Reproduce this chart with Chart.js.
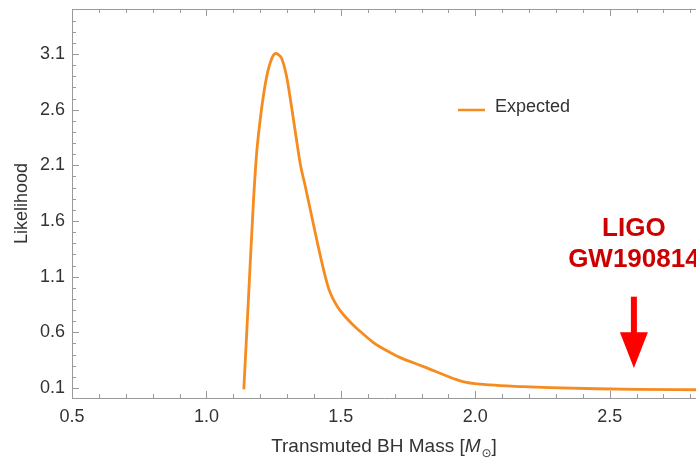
<!DOCTYPE html>
<html>
<head>
<meta charset="utf-8">
<script src="https://cdn.jsdelivr.net/npm/chart.js@4.4.1/dist/chart.umd.min.js"></script>
<style>
  html, body { margin: 0; padding: 0; background: #ffffff; overflow: hidden; }
  #wrap { width: 696px; height: 459px; position: relative; }
</style>
</head>
<body>
<div id="wrap"><canvas id="c" width="696" height="459"></canvas></div>
<script>
// ---- data ----
const massValues = [1.139, 1.150, 1.1625, 1.1755, 1.1865, 1.1995, 1.2135, 1.229, 1.243, 1.251,
  1.258, 1.267, 1.280, 1.298, 1.317, 1.335, 1.350, 1.366, 1.390, 1.415,
  1.440, 1.455, 1.471, 1.490, 1.509, 1.540, 1.571, 1.620, 1.645, 1.682,
  1.719, 1.810, 1.930, 1.967, 2.054, 2.178, 2.277, 2.450, 2.600, 2.821];
const likelihoodValues = [0.088, 0.60, 1.20, 1.80, 2.20, 2.50, 2.75, 2.95, 3.06, 3.095,
  3.105, 3.095, 3.06, 2.90, 2.62, 2.33, 2.10, 1.93, 1.66, 1.38,
  1.12, 0.99, 0.90, 0.82, 0.76, 0.68, 0.61, 0.51, 0.47, 0.42,
  0.375, 0.29, 0.175, 0.15, 0.127, 0.112, 0.103, 0.093, 0.088, 0.084];
const xTickValues = [0.5, 1.0, 1.5, 2.0, 2.5];
const yTickValues = [0.1, 0.6, 1.1, 1.6, 2.1, 2.6, 3.1];
const seriesLabel = 'Expected';
const xTitle = ['Transmuted BH Mass [', 'M', '\u2299', ']'];
const annotationLines = ['LIGO', 'GW190814'];
const annotationMass = 2.59;

// ---- styling ----
const ORANGE = '#f68b1f';
const FRAME = '#9a9a9a';
const TEXT = '#333333';
const FONT = "'Liberation Sans', Arial, sans-serif";

const points = massValues.map((m, i) => ({ x: m, y: likelihoodValues[i] }));

// frame + inward ticks (Mathematica-style)
const framePlugin = {
  id: 'frame',
  afterDraw(chart) {
    const { ctx, chartArea: a, scales: { x, y } } = chart;
    ctx.save();
    ctx.strokeStyle = FRAME;
    ctx.lineWidth = 1;
    ctx.beginPath();
    ctx.moveTo(a.left, a.top + 0.5);
    ctx.lineTo(a.right, a.top + 0.5);
    ctx.stroke();
    const isMajor = (v, arr) => arr.some(t => Math.abs(t - v) < 1e-6);
    for (let k = 5; k <= 28; k++) {
      const v = k / 10;
      const px = Math.round(x.getPixelForValue(v)) + 0.5;
      if (px < a.left - 1 || px > a.right) continue;
      const len = isMajor(v, xTickValues) ? 7 : 4;
      ctx.beginPath();
      ctx.moveTo(px, a.bottom); ctx.lineTo(px, a.bottom - len);
      ctx.moveTo(px, a.top); ctx.lineTo(px, a.top + len);
      ctx.stroke();
    }
    for (let k = 1; k <= 35; k++) {
      const v = k / 10;
      const py = Math.round(y.getPixelForValue(v)) + 0.5;
      if (py < a.top + 1 || py > a.bottom) continue;
      const len = isMajor(v, yTickValues) ? 7 : 4;
      ctx.beginPath();
      ctx.moveTo(a.left, py); ctx.lineTo(a.left + len, py);
      ctx.stroke();
    }
    ctx.restore();
  }
};

// x-axis title with italic M and subscript sun symbol
const xTitlePlugin = {
  id: 'xTitleRich',
  afterDraw(chart) {
    const { ctx, chartArea: a } = chart;
    const cx = (a.left + a.right) / 2;
    const base = 452;
    const fonts = ["19px " + FONT, "italic 19px " + FONT, "12px 'DejaVu Sans', " + FONT, "19px " + FONT];
    const dy = [0, 0, 5, 0];
    ctx.save();
    let widths = xTitle.map((t, i) => { ctx.font = fonts[i]; return ctx.measureText(t).width; });
    widths[1] += 1;
    const total = widths.reduce((s, w) => s + w, 0);
    let xx = cx - total / 2;
    ctx.fillStyle = TEXT;
    ctx.textBaseline = 'alphabetic';
    ctx.textAlign = 'left';
    xTitle.forEach((t, i) => {
      ctx.font = fonts[i];
      ctx.fillText(t, xx, base + dy[i]);
      xx += widths[i];
    });
    ctx.restore();
  }
};

// legend drawn inside plot
const legendPlugin = {
  id: 'insetLegend',
  afterDraw(chart) {
    const { ctx, chartArea: a } = chart;
    const ds = chart.data.datasets[0];
    const lx = a.left + 386, ly = 110;
    ctx.save();
    ctx.strokeStyle = ds.borderColor;
    ctx.lineWidth = 2.5;
    ctx.beginPath();
    ctx.moveTo(lx, ly); ctx.lineTo(lx + 27, ly);
    ctx.stroke();
    ctx.fillStyle = TEXT;
    ctx.font = "18px " + FONT;
    ctx.textBaseline = 'middle';
    ctx.textAlign = 'left';
    ctx.fillText(ds.label, lx + 37, ly - 3);
    ctx.restore();
  }
};

// LIGO annotation with arrow
const annotationPlugin = {
  id: 'ligo',
  afterDraw(chart) {
    const { ctx, scales: { x, y } } = chart;
    const px = x.getPixelForValue(annotationMass);
    ctx.save();
    ctx.fillStyle = '#cc0000';
    ctx.font = "bold 26px " + FONT;
    ctx.textAlign = 'center';
    ctx.textBaseline = 'middle';
    ctx.fillText(annotationLines[0], px, y.getPixelForValue(1.53));
    ctx.fillText(annotationLines[1], px, y.getPixelForValue(1.25));
    const top = y.getPixelForValue(0.92);
    const headTop = y.getPixelForValue(0.60);
    const tip = y.getPixelForValue(0.28);
    ctx.fillStyle = '#ff0000';
    ctx.fillRect(px - 3, top, 6, headTop - top + 1);
    ctx.beginPath();
    ctx.moveTo(px - 14, headTop);
    ctx.lineTo(px + 14, headTop);
    ctx.lineTo(px, tip);
    ctx.closePath();
    ctx.fill();
    ctx.restore();
  }
};

new Chart(document.getElementById('c'), {
  type: 'line',
  data: {
    datasets: [{
      label: seriesLabel,
      data: points,
      borderColor: ORANGE,
      backgroundColor: ORANGE,
      borderWidth: 2.8,
      pointRadius: 0,
      fill: false,
      cubicInterpolationMode: 'monotone'
    }]
  },
  options: {
    responsive: false,
    animation: false,
    devicePixelRatio: 1,
    layout: { padding: { top: 9, right: 0, left: 0, bottom: 0 } },
    plugins: {
      legend: { display: false },
      tooltip: { enabled: false },
      title: { display: false }
    },
    scales: {
      x: {
        type: 'linear',
        min: 0.5,
        max: 2.821,
        afterBuildTicks: (s) => { s.ticks = xTickValues.map(v => ({ value: v })); },
        afterFit: (s) => { s.height = 61; s.paddingLeft = 0; s.paddingRight = 0; },
        grid: { color: 'transparent', drawTicks: false },
        border: { display: true, color: FRAME, width: 1 },
        ticks: {
          autoSkip: false, maxRotation: 0, padding: 8,
          color: TEXT, font: { family: FONT, size: 18 },
          callback: (v) => Number(v).toFixed(1)
        },
        title: {
          display: true,
          text: 'Transmuted BH Mass [M\u2299]',
          color: 'rgba(0,0,0,0)',
          font: { family: FONT, size: 18 },
          padding: { top: 0, bottom: 3 }
        }
      },
      y: {
        type: 'linear',
        min: 0.01,
        max: 3.504,
        afterBuildTicks: (s) => { s.ticks = yTickValues.map(v => ({ value: v })); },
        afterFit: (s) => { s.width = 72; s.paddingTop = 0; s.paddingBottom = 0; },
        grid: { color: 'transparent', drawTicks: false },
        border: { display: true, color: FRAME, width: 1 },
        ticks: {
          autoSkip: false, padding: 7,
          color: TEXT, font: { family: FONT, size: 18 },
          callback: (v) => Number(v).toFixed(1)
        },
        title: {
          display: true,
          text: 'Likelihood',
          color: TEXT,
          font: { family: FONT, size: 18 },
          padding: { top: 11, bottom: 0 }
        }
      }
    }
  },
  plugins: [framePlugin, xTitlePlugin, legendPlugin, annotationPlugin]
});
</script>
</body>
</html>
